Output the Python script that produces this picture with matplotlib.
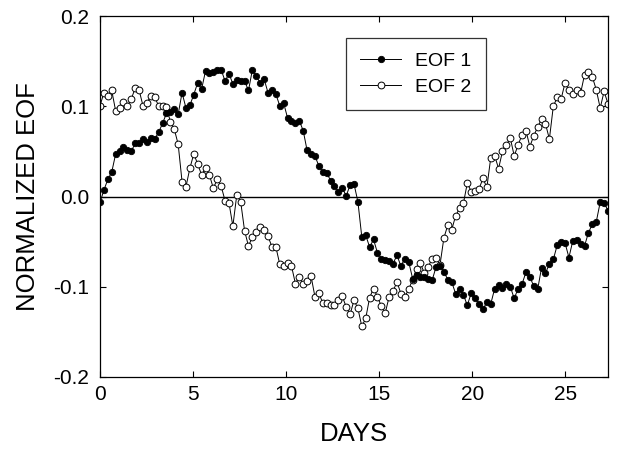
import numpy as np
import matplotlib
matplotlib.use("Agg")
import matplotlib.pyplot as plt
from matplotlib.ticker import FormatStrFormatter

plt.rcParams["font.family"] = ["Liberation Sans", "DejaVu Sans"]
plt.rcParams["axes.unicode_minus"] = False

# sampling step in days (evenly spaced)
step = 0.21

eof1 = [
    -0.0065, 0.007, 0.019, 0.027, 0.047, 0.050, 0.055, 0.052, 0.050, 0.059,
    0.059, 0.064, 0.060, 0.065, 0.064, 0.071, 0.081, 0.092, 0.094, 0.097,
    0.091, 0.115, 0.098, 0.101, 0.113, 0.126, 0.119, 0.139, 0.137, 0.1375,
    0.140, 0.1405, 0.128, 0.136, 0.125, 0.129, 0.128, 0.128, 0.1175, 0.1405,
    0.133, 0.126, 0.130, 0.115, 0.1175, 0.1135, 0.1005, 0.1035, 0.087, 0.084,
    0.081, 0.084, 0.073, 0.051, 0.047, 0.045, 0.034, 0.0276, 0.0265, 0.0176,
    0.0117, 0.0053, 0.0098, 0.0006, 0.0128, 0.0139, -0.0058, -0.045, -0.043, -0.056,
    -0.0476, -0.0624, -0.0687, -0.0706, -0.0717, -0.0743, -0.065, -0.0772, -0.0687, -0.0724,
    -0.0909, -0.087, -0.089, -0.089, -0.0909, -0.0928, -0.078, -0.077, -0.0835, -0.092,
    -0.0946, -0.1076, -0.102, -0.109, -0.1205, -0.107, -0.113, -0.119, -0.125, -0.117,
    -0.119, -0.102, -0.098, -0.101, -0.097, -0.100, -0.113, -0.102, -0.097, -0.084,
    -0.089, -0.0994, -0.103, -0.0787, -0.0847, -0.075, -0.0698, -0.054, -0.050, -0.0513,
    -0.0676, -0.049, -0.048, -0.053, -0.0547, -0.040, -0.0306, -0.028, -0.0064, -0.0069,
    -0.0158,
]

eof2 = [
    0.1005, 0.115, 0.111, 0.1175, 0.095, 0.098, 0.105, 0.1005, 0.108, 0.120,
    0.118, 0.1005, 0.104, 0.111, 0.110, 0.1005, 0.0998, 0.099, 0.083, 0.0747,
    0.058, 0.0164, 0.0109, 0.0313, 0.0472, 0.036, 0.0239, 0.0313, 0.0239, 0.0091,
    0.0191, 0.0117, -0.0047, -0.0069, -0.0328, 0.0017, -0.0058, -0.038, -0.055, -0.0447,
    -0.039, -0.034, -0.037, -0.044, -0.0558, -0.0558, -0.075, -0.077, -0.0736, -0.077,
    -0.0964, -0.089, -0.097, -0.0936, -0.088, -0.111, -0.107, -0.118, -0.118, -0.1205,
    -0.1205, -0.115, -0.1105, -0.1224, -0.1306, -0.115, -0.124, -0.144, -0.135, -0.112,
    -0.102, -0.111, -0.1217, -0.129, -0.111, -0.1047, -0.0947, -0.1076, -0.111, -0.103,
    -0.092, -0.080, -0.074, -0.085, -0.078, -0.0687, -0.0676, -0.076, -0.046, -0.0317,
    -0.037, -0.0215, -0.0131, -0.0076, 0.015, 0.0053, 0.0064, 0.0085, 0.020, 0.010,
    0.043, 0.045, 0.031, 0.050, 0.057, 0.0647, 0.045, 0.0572, 0.0683, 0.0731,
    0.0553, 0.0672, 0.0769, 0.0858, 0.0806, 0.0636, 0.0998, 0.110, 0.108, 0.1258,
    0.1176, 0.1136, 0.1176, 0.1147, 0.135, 0.1376, 0.1324, 0.1183, 0.098, 0.1164,
    0.1028,
]

days = np.arange(len(eof1)) * step

fig = plt.figure(figsize=(6.18, 4.51), dpi=100)
ax = fig.add_axes([100 / 618, 1 - 377 / 451, 508 / 618, 361 / 451])

ax.axhline(0, color="black", lw=1.0, zorder=1)
ax.plot(days, eof1, "-o", color="black", lw=0.7, ms=4.6,
        mfc="black", mec="black", mew=0.6, label="EOF 1", zorder=3)
ax.plot(days, eof2, "-o", color="black", lw=0.7, ms=4.9,
        mfc="white", mec="black", mew=0.7, label="EOF 2", zorder=2)

ax.set_xlim(0, 27.3)
ax.set_ylim(-0.2, 0.2)
ax.set_xticks([0, 5, 10, 15, 20, 25])
ax.set_yticks([-0.2, -0.1, 0.0, 0.1, 0.2])
ax.yaxis.set_major_formatter(FormatStrFormatter("%.1f"))
ax.tick_params(direction="in", top=True, right=True, length=4, width=0.8,
               labelsize=15)
ax.tick_params(axis="y", pad=8)
ax.tick_params(axis="x", pad=6)
for s in ax.spines.values():
    s.set_linewidth(0.9)

ax.set_xlabel("DAYS", fontsize=18.5, labelpad=13)
ax.set_ylabel("NORMALIZED EOF", fontsize=18.5, labelpad=9)

leg = ax.legend(loc="upper left", bbox_to_anchor=(0.484, 0.939), fontsize=14,
                frameon=True, fancybox=False, edgecolor="black",
                borderaxespad=0, handlelength=2.1, handletextpad=0.7,
                borderpad=0.75, labelspacing=0.4)
leg.get_frame().set_linewidth(0.9)

fig.savefig("out.png", dpi=100)
